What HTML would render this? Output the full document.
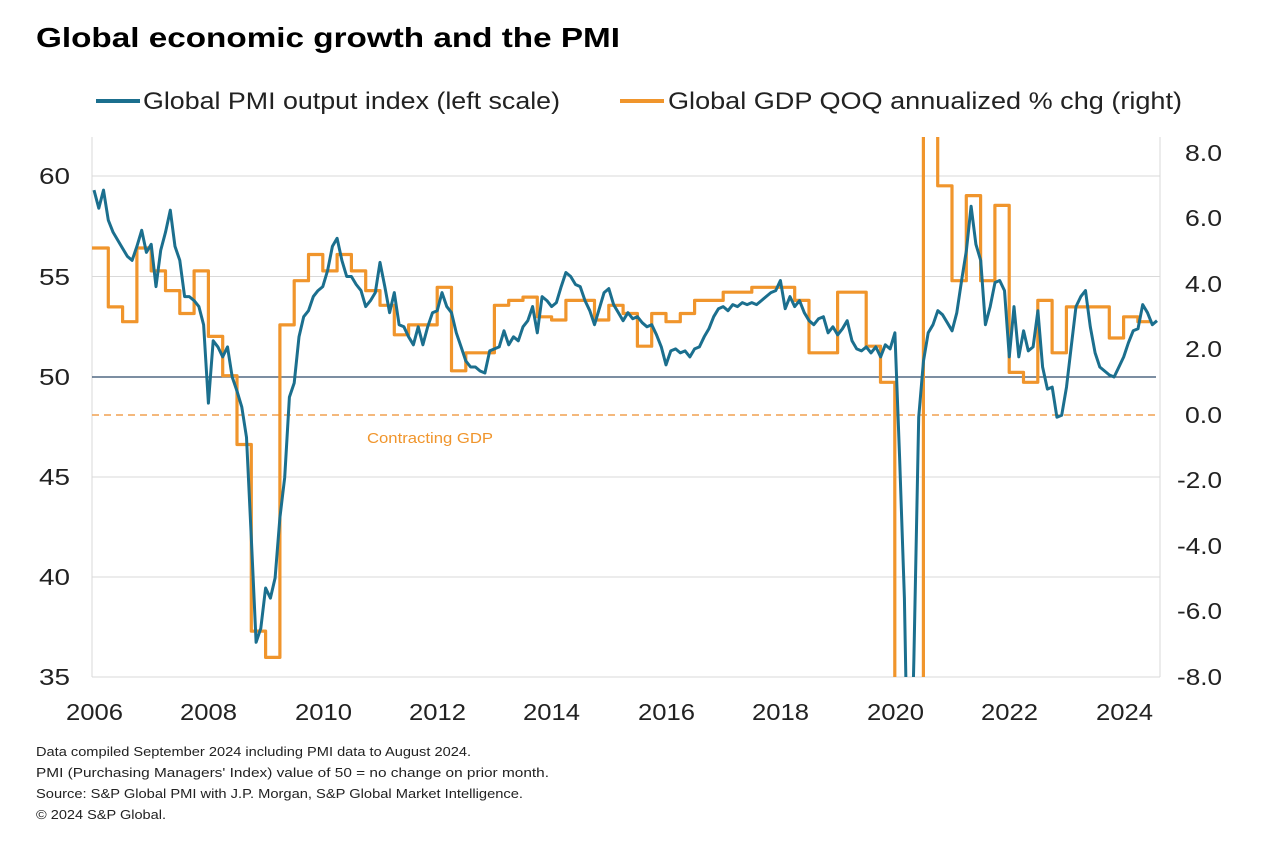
<!DOCTYPE html>
<html><head><meta charset="utf-8"><style>
body{margin:0;background:#fff;width:1270px;height:856px;overflow:hidden;font-family:"Liberation Sans",Arial,sans-serif}
svg{display:block}
</style></head><body>
<svg width="1270" height="856" xmlns="http://www.w3.org/2000/svg" font-family="Liberation Sans, Arial, sans-serif">
<text x="36" y="47" font-size="28" font-weight="bold" fill="#000" textLength="584" lengthAdjust="spacingAndGlyphs">Global economic growth and the PMI</text>
<line x1="96" y1="101" x2="140" y2="101" stroke="#1b6f8e" stroke-width="4"/>
<text x="143" y="109" font-size="24" fill="#222" textLength="417" lengthAdjust="spacingAndGlyphs">Global PMI output index (left scale)</text>
<line x1="620" y1="101" x2="664" y2="101" stroke="#f0952c" stroke-width="4"/>
<text x="668" y="109" font-size="24" fill="#222" textLength="514" lengthAdjust="spacingAndGlyphs">Global GDP QOQ annualized % chg (right)</text>
<g stroke="#d9d9d9" stroke-width="1">
<line x1="92" y1="176" x2="1160" y2="176"/><line x1="92" y1="276.5" x2="1160" y2="276.5"/>
<line x1="92" y1="477" x2="1160" y2="477"/><line x1="92" y1="577" x2="1160" y2="577"/>
<line x1="92" y1="137" x2="92" y2="677"/><line x1="1160" y1="137" x2="1160" y2="677"/>
<line x1="92" y1="677" x2="1160" y2="677"/>
</g>
<line x1="92" y1="377" x2="1156" y2="377" stroke="#2e4a6b" stroke-width="1.3"/>
<line x1="92" y1="415" x2="1160" y2="415" stroke="#f0a050" stroke-width="1.5" stroke-dasharray="7,5"/>
<text x="367" y="443" font-size="15" fill="#f0952c" textLength="126" lengthAdjust="spacingAndGlyphs">Contracting GDP</text>
<g font-size="23" fill="#222">
<text x="39" y="184" textLength="31" lengthAdjust="spacingAndGlyphs">60</text>
<text x="39" y="285" textLength="31" lengthAdjust="spacingAndGlyphs">55</text>
<text x="39" y="385" textLength="31" lengthAdjust="spacingAndGlyphs">50</text>
<text x="39" y="485" textLength="31" lengthAdjust="spacingAndGlyphs">45</text>
<text x="39" y="585" textLength="31" lengthAdjust="spacingAndGlyphs">40</text>
<text x="39" y="685" textLength="31" lengthAdjust="spacingAndGlyphs">35</text>
</g>
<g font-size="23" fill="#222">
<text x="1185" y="161" textLength="37" lengthAdjust="spacingAndGlyphs">8.0</text>
<text x="1185" y="226" textLength="37" lengthAdjust="spacingAndGlyphs">6.0</text>
<text x="1185" y="292" textLength="37" lengthAdjust="spacingAndGlyphs">4.0</text>
<text x="1185" y="357" textLength="37" lengthAdjust="spacingAndGlyphs">2.0</text>
<text x="1185" y="423" textLength="37" lengthAdjust="spacingAndGlyphs">0.0</text>
<text x="1177" y="488" textLength="45" lengthAdjust="spacingAndGlyphs">-2.0</text>
<text x="1177" y="554" textLength="45" lengthAdjust="spacingAndGlyphs">-4.0</text>
<text x="1177" y="619" textLength="45" lengthAdjust="spacingAndGlyphs">-6.0</text>
<text x="1177" y="685" textLength="45" lengthAdjust="spacingAndGlyphs">-8.0</text>
</g>
<g font-size="23" fill="#222">
<text x="66" y="720" textLength="57" lengthAdjust="spacingAndGlyphs">2006</text>
<text x="180" y="720" textLength="57" lengthAdjust="spacingAndGlyphs">2008</text>
<text x="295" y="720" textLength="57" lengthAdjust="spacingAndGlyphs">2010</text>
<text x="409" y="720" textLength="57" lengthAdjust="spacingAndGlyphs">2012</text>
<text x="523" y="720" textLength="57" lengthAdjust="spacingAndGlyphs">2014</text>
<text x="638" y="720" textLength="57" lengthAdjust="spacingAndGlyphs">2016</text>
<text x="752" y="720" textLength="57" lengthAdjust="spacingAndGlyphs">2018</text>
<text x="867" y="720" textLength="57" lengthAdjust="spacingAndGlyphs">2020</text>
<text x="981" y="720" textLength="57" lengthAdjust="spacingAndGlyphs">2022</text>
<text x="1096" y="720" textLength="57" lengthAdjust="spacingAndGlyphs">2024</text>
</g>
<defs><clipPath id="c"><rect x="92" y="137" width="1068" height="540"/></clipPath></defs>
<g clip-path="url(#c)" fill="none" stroke-linejoin="round">
<path id="gdp" stroke="#f0952c" stroke-width="3.2"/>
<path id="pmi" stroke="#1b6f8e" stroke-width="3"/>
</g>
<g font-size="13" fill="#222">
<text x="36" y="756" textLength="435" lengthAdjust="spacingAndGlyphs">Data compiled September 2024 including PMI data to August 2024.</text>
<text x="36" y="777" textLength="513" lengthAdjust="spacingAndGlyphs">PMI (Purchasing Managers' Index) value of 50 = no change on prior month.</text>
<text x="36" y="798" textLength="487" lengthAdjust="spacingAndGlyphs">Source: S&amp;P Global PMI with J.P. Morgan, S&amp;P Global Market Intelligence.</text>
<text x="36" y="819" textLength="130" lengthAdjust="spacingAndGlyphs">© 2024 S&amp;P Global.</text>
</g>
</svg>
<script>
var p=[59.3,58.4,59.3,57.8,57.2,56.8,56.4,56,55.8,56.5,57.3,56.2,
56.6,54.5,56.3,57.2,58.3,56.5,55.8,54,54,53.8,53.5,52.6,
48.7,51.8,51.5,51,51.5,50,49.3,48.5,47,42,36.8,37.5,
39.5,39,40,43,45,49,49.7,52,53,53.3,54,54.3,
54.5,55.3,56.5,56.9,55.8,55,55,54.6,54.3,53.5,53.8,54.2,
55.7,54.5,53.2,54.2,52.6,52.5,52,51.6,52.5,51.6,52.5,53.2,
53.3,54.2,53.5,53.2,52.2,51.5,50.8,50.5,50.5,50.3,50.2,51.3,
51.4,51.5,52.3,51.6,52,51.8,52.5,52.8,53.5,52.2,54,53.8,
53.5,53.7,54.5,55.2,55,54.6,54.5,53.8,53.3,52.6,53.4,54.2,
54.4,53.6,53.2,52.8,53.2,52.9,53,52.7,52.5,52.6,52.1,51.5,
50.6,51.3,51.4,51.2,51.3,51,51.4,51.5,52,52.4,53,53.4,
53.5,53.3,53.6,53.5,53.7,53.6,53.7,53.6,53.8,54,54.2,54.3,
54.8,53.4,54,53.5,53.8,53.2,52.8,52.6,52.9,53,52.2,52.5,
52.1,52.4,52.8,51.8,51.4,51.3,51.5,51.2,51.5,51,51.6,51.4,
52.2,46,39,26,36,48,50.8,52.2,52.6,53.3,53.1,52.7,
52.3,53.2,54.8,56.3,58.5,56.6,55.8,52.6,53.5,54.7,54.8,54.3,
51,53.5,51,52.3,51.3,51.5,53.3,50.5,49.4,49.5,48,48.1,
49.5,51.5,53.5,54,54.3,52.5,51.2,50.5,50.3,50.1,50,50.5,
51,51.7,52.3,52.4,53.6,53.2,52.6,52.8];
var d='';p.forEach(function(v,i){d+=(i?'L':'M')+(94+i*4.767).toFixed(1)+','+(176+(60-v)*20.1).toFixed(1);});
document.getElementById('pmi').setAttribute('d',d);
var g=[5.1,3.3,2.85,5.1,4.4,3.8,3.1,4.4,2.4,1.2,-0.9,-6.6,-7.4,2.75,4.1,4.9,4.4,4.9,4.4,3.8,3.35,2.45,2.75,2.75,3.9,1.35,1.9,1.9,3.35,3.5,3.6,3.0,2.9,3.5,3.5,2.9,3.35,3.1,2.1,3.1,2.85,3.1,3.5,3.5,3.75,3.75,3.9,3.9,3.9,3.5,1.9,1.9,3.75,3.75,2.1,1.0,-20,-20,30,7.0,4.1,6.7,4.1,6.4,1.3,1.0,3.5,1.9,3.3,3.3,3.3,2.35,3.0,2.85];
var e='';g.forEach(function(v,i){var x1=94+(i+1)*14.3,y=(415-v*32.75).toFixed(1);
if(i==0)e+='M92,'+y;else e+='V'+y;e+='H'+x1.toFixed(1);});
document.getElementById('gdp').setAttribute('d',e);
</script>
</body></html>
